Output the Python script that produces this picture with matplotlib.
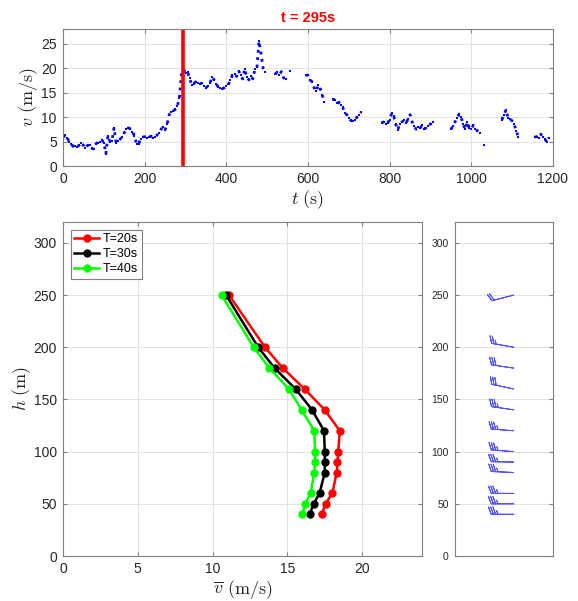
import numpy as np
import matplotlib
matplotlib.use("Agg")
import matplotlib.pyplot as plt

plt.rcParams['font.family'] = ['Liberation Sans', 'DejaVu Sans']
plt.rcParams['mathtext.fontset'] = 'cm'

# ---------------- data ----------------
t_step = 5
v_t = [
    5.8, 6.3, 5.8, 5.0, 4.5, 4.0, 4.1, 3.9, 4.3, 4.8,
    4.2, 3.6, 4.2, 4.3, 3.6, 3.5, 4.5, 4.8, 5.0, 5.3,
    4.8, 2.5, 6.2, 5.0, 5.2, 7.8, 4.8, 5.2, 5.5, 6.0,
    6.8, 7.5, 7.8, 7.6, 7.0, 6.2, 4.5, 4.5, 5.5, 5.9,
    6.0, 5.8, 5.9, 6.1, 5.8, 6.0, 6.3, 6.8, 7.5, 8.0,
    7.4, 8.5, 10.5, 11.0, 11.2, 11.6, 12.2, 14.0, 18.5, 19.8,
    19.0, 19.2, 18.0, 16.6, 16.8, 17.2, 17.0, 16.8, 16.9, 16.3,
    16.0, 16.4, 17.0, 18.2, 17.6, 16.8, 16.2, 15.9, 15.8, 16.0,
    16.4, 16.7, 17.5, 18.6, 18.8, 18.3, 19.5, 18.5, 17.8, 19.8,
    18.2, 17.6, 18.4, 17.8, 19.8, 20.2, 25.5, 23.0, 20.0, 19.2,
    np.nan, np.nan, np.nan, np.nan, 18.8, 19.2, 18.7, 19.3, 18.0, 17.8,
    np.nan, 19.4, np.nan, np.nan, np.nan, np.nan, np.nan, np.nan, np.nan, 18.6,
    18.5, 17.6, 17.2, 16.0, 15.3, 16.5, 15.8, 14.5, 13.0, np.nan,
    np.nan, np.nan, 13.7, 13.5, 12.8, 13.0, 12.4, 12.0, 10.8, 10.5,
    9.8, 9.3, 9.2, 9.4, 10.0, 10.4, 11.0, np.nan, np.nan, np.nan,
    np.nan, np.nan, np.nan, np.nan, np.nan, np.nan, 8.8, 9.0, 8.6, 8.8,
    9.5, 10.8, 10.2, 8.5, 7.4, 8.6, 9.0, 9.3, 8.8, 9.6,
    10.5, 9.0, 8.2, 7.5, 8.0, 7.8, 8.4, 7.6, 7.8, 8.2,
    8.6, 9.0, np.nan, np.nan, np.nan, np.nan, np.nan, np.nan, np.nan, np.nan,
    7.5, 8.2, 9.0, 9.8, 10.6, 10.0, 8.5, 7.5, 9.0, 7.8,
    7.6, 8.3, 7.6, 7.2, 6.8, np.nan, 4.2, np.nan, np.nan, np.nan,
    np.nan, np.nan, np.nan, np.nan, np.nan, 9.5, 10.5, 11.5, 9.8, 9.6,
    9.2, 8.5, 7.2, 6.0, np.nan, np.nan, np.nan, np.nan, np.nan, np.nan,
    np.nan, 5.9, 6.0, 5.8, 6.5, 6.0, 5.5, 4.9, 5.8, np.nan,
    np.nan,
]
t_now = 295

heights = [250, 200, 180, 160, 140, 120, 100, 90, 80, 60, 50, 40]
v_T20 = [11.1, 13.5, 14.7, 16.15, 17.5, 18.5, 18.4, 18.35, 18.3, 18.0, 17.55, 17.3]
v_T30 = [10.9, 13.05, 14.15, 15.55, 16.65, 17.45, 17.5, 17.5, 17.5, 17.15, 16.75, 16.5]
v_T40 = [10.6, 12.75, 13.8, 15.1, 15.95, 16.8, 16.85, 16.85, 16.8, 16.55, 16.2, 16.0]
labels = ['T=20s', 'T=30s', 'T=40s']
colors = ['#ff0000', '#000000', '#00ff00']

# direction of the (u, v) wind vector at each height, degrees
wind_dir_deg = [14.5, -10, -8.5, -12, -8.5, -4.3, -4.3, -1, -2.6, 0, 0, 0]

# ---------------- figure ----------------
W, H = 578, 601
fig = plt.figure(figsize=(W / 100, H / 100), dpi=100)

def rect(l, t, r, b):
    return [l / W, 1 - b / H, (r - l) / W, (b - t) / H]

spine_c = '#808080'
tick_c = '#262626'
grid_c = '#e3e3e3'

def style(ax, fs=10):
    for s in ax.spines.values():
        s.set_color(spine_c)
        s.set_linewidth(0.8)
    ax.tick_params(direction='in', top=True, right=True, colors=spine_c,
                   labelcolor=tick_c, labelsize=fs, length=3, width=0.8, pad=4.5)
    ax.set_axisbelow(True)

# top panel
ax1 = fig.add_axes(rect(63, 29, 553, 166))
style(ax1)
t_arr = np.arange(len(v_t)) * t_step
ax1.plot(t_arr, v_t, color='#0000ff', linestyle=':', linewidth=2.0,
         marker='s', markersize=1.6, markeredgewidth=0)
ax1.axvline(t_now, color='#ff0000', linewidth=2.6)
ax1.set_xlim(0, 1200)
ax1.set_ylim(0, 28)
ax1.set_xticks(np.arange(0, 1201, 200))
ax1.set_yticks(np.arange(0, 26, 5))
ax1.grid(True, color=grid_c, linewidth=0.7)
ax1.set_xlabel(r'$t\ (\mathrm{s})$', fontsize=13, labelpad=1.5, color=tick_c)
ax1.set_ylabel(r'$v\ (\mathrm{m/s})$', fontsize=13, labelpad=0.5, color=tick_c)
ax1.set_title(f't = {t_now}s', color='#ff0000', fontweight='bold', fontsize=10.5, pad=5)

# bottom-left panel
ax2 = fig.add_axes(rect(63, 222, 422, 556))
style(ax2)
for vals, lab, c in zip([v_T20, v_T30, v_T40], labels, colors):
    ax2.plot(vals, heights, color=c, linewidth=1.8, marker='o', markersize=5,
             label=lab)
ax2.set_xlim(0, 24)
ax2.set_ylim(0, 320)
ax2.set_xticks(np.arange(0, 21, 5))
ax2.set_yticks(np.arange(0, 301, 50))
ax2.grid(True, color=grid_c, linewidth=0.7)
ax2.set_xlabel(r'$\overline{v}\ (\mathrm{m/s})$', fontsize=13, labelpad=1, color=tick_c)
ax2.set_ylabel(r'$h\ (\mathrm{m})$', fontsize=13, labelpad=0.5, color=tick_c)
leg = ax2.legend(loc='upper left', fontsize=9, fancybox=False, framealpha=1,
                 edgecolor=spine_c, handlelength=2.0, borderpad=0.3,
                 labelspacing=0.25, handletextpad=0.3, borderaxespad=0.6)
leg.get_frame().set_linewidth(0.8)

# bottom-right panel (wind barbs)
ax3 = fig.add_axes(rect(455, 222, 553, 556))
style(ax3, fs=7.5)
spd = np.array(v_T20)
ang = np.deg2rad(wind_dir_deg)
u = spd * np.cos(ang)
v = spd * np.sin(ang)
ax3.barbs(np.full(len(heights), 0.2), heights, u, v, length=5.7,
          barb_increments=dict(half=2.5, full=5, flag=25),
          sizes=dict(height=0.32, spacing=0.1, width=0.25),
          color='#5555ff', linewidth=0.7)
ax3.set_xlim(-1, 1)
ax3.set_ylim(0, 320)
ax3.set_xticks([])
ax3.set_yticks(np.arange(0, 301, 50))
ax3.grid(True, axis='y', color=grid_c, linewidth=0.7)

fig.savefig('out.png', dpi=100)
